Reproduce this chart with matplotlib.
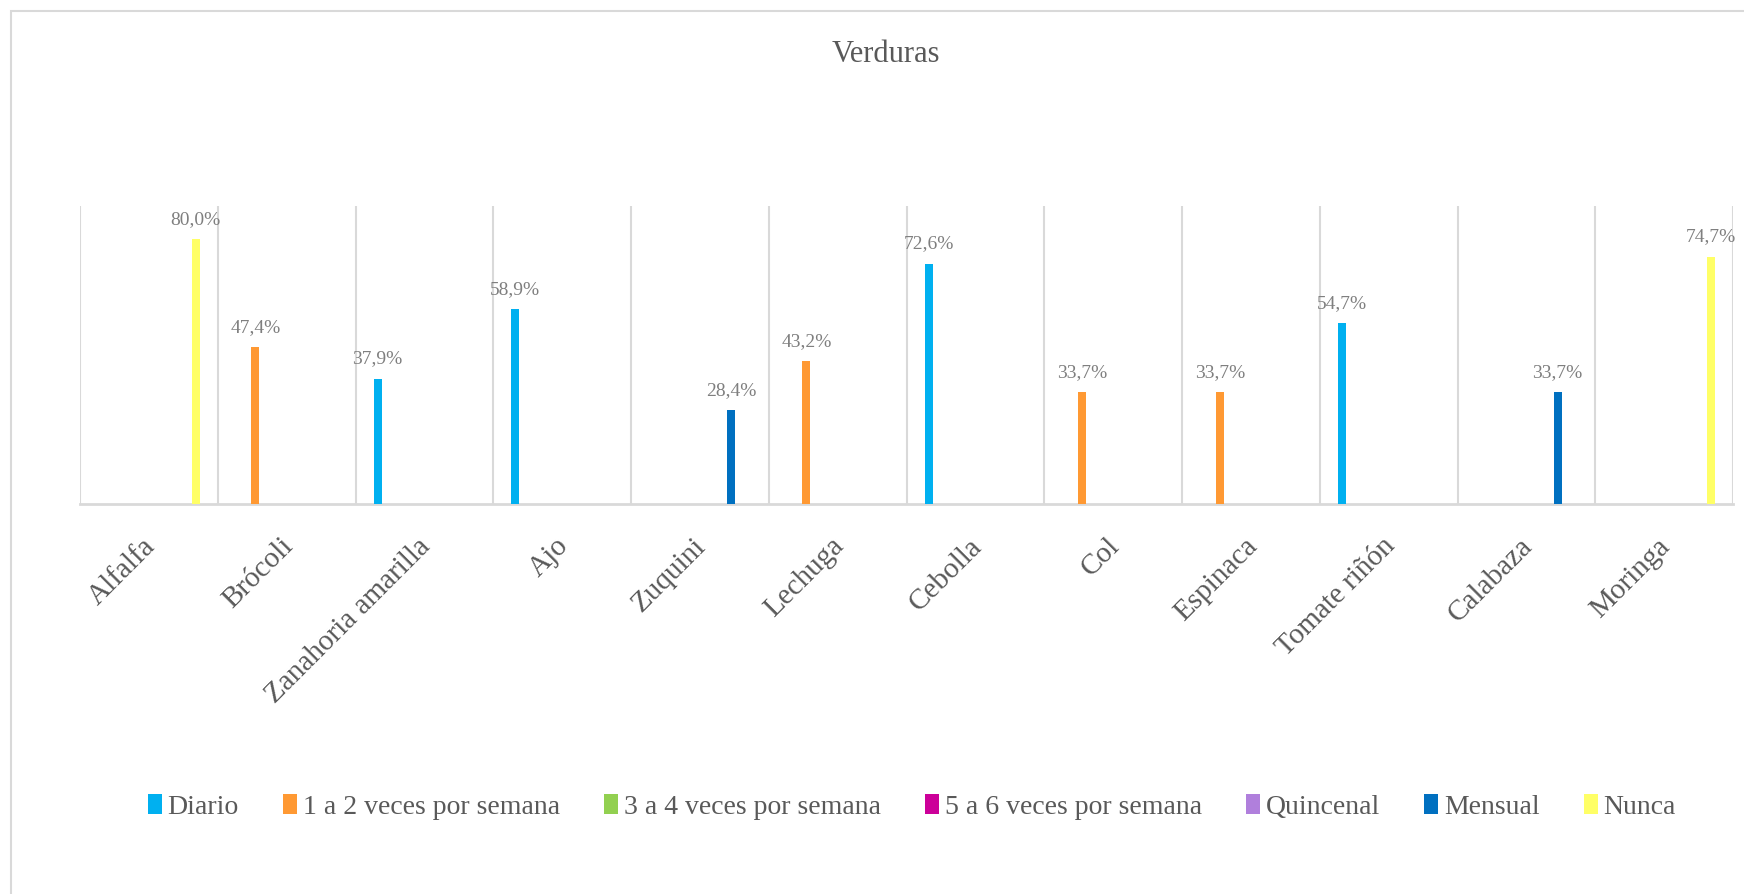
import matplotlib.pyplot as plt
import matplotlib as mpl
from matplotlib.patches import Rectangle
from matplotlib.transforms import ScaledTranslation
import numpy as np

categorias = ["Alfalfa", "Brócoli", "Zanahoria amarilla", "Ajo", "Zuquini", "Lechuga",
              "Cebolla", "Col", "Espinaca", "Tomate riñón", "Calabaza", "Moringa"]

series = ["Diario", "1 a 2 veces por semana", "3 a 4 veces por semana",
          "5 a 6 veces por semana", "Quincenal", "Mensual", "Nunca"]

diario    = [0, 0, 37.9, 58.9, 0, 0, 72.6, 0, 0, 54.7, 0, 0]
uno_dos   = [0, 47.4, 0, 0, 0, 43.2, 0, 33.7, 33.7, 0, 0, 0]
tres_cua  = [0] * 12
cinco_sei = [0] * 12
quincenal = [0] * 12
mensual   = [0, 0, 0, 0, 28.4, 0, 0, 0, 0, 0, 33.7, 0]
nunca     = [80.0, 0, 0, 0, 0, 0, 0, 0, 0, 0, 0, 74.7]

valores = [diario, uno_dos, tres_cua, cinco_sei, quincenal, mensual, nunca]
colores = ["#00B0F0", "#FF9933", "#92D050", "#CC0099", "#B07FDC", "#0070C0", "#FFFF66"]

mpl.rcParams['font.family'] = ['Liberation Serif', 'DejaVu Serif']
gris = "#595959"

fig = plt.figure(figsize=(17.44, 8.94), dpi=100)
ax = fig.add_axes([80 / 1744, 1 - 504 / 894, (1733 - 80) / 1744, (504 - 206) / 894])

# outer chart border
fig.patches.append(Rectangle((11 / 1744, -0.1), 1.2, 1.1 - 11 / 894, transform=fig.transFigure,
                             fill=False, edgecolor="#D9D9D9", lw=1.5))

x = np.arange(len(categorias))
slot = 0.113
ancho = 0.058
for i, (nombre, vals, col) in enumerate(zip(series, valores, colores)):
    v = np.array(vals) / 100.0
    bars = ax.bar(x + (i - 3) * slot, v, width=ancho, color=col, label=nombre, zorder=3)
    etiquetas = [("%.1f%%" % val).replace(".", ",") if val > 0 else "" for val in vals]
    ax.bar_label(bars, labels=etiquetas, padding=8, fontsize=14, color="#7F7F7F")

ax.set_xlim(-0.5, len(categorias) - 0.5)
ax.set_ylim(0, 0.9)
ax.set_yticks([])

# category separators
ax.set_xticks(np.arange(-0.5, len(categorias)), minor=True)
ax.grid(True, which="minor", axis="x", color="#D9D9D9", lw=1.5, zorder=0)
ax.tick_params(which="minor", length=0)
for s in ["top", "right", "left"]:
    ax.spines[s].set_visible(False)
ax.spines["bottom"].set_color("#D9D9D9")
ax.spines["bottom"].set_linewidth(2)

ax.set_xticks(x)
ax.set_xticklabels(categorias, rotation=45, ha="right", va="top", rotation_mode="anchor",
                   fontsize=21, color=gris)
ax.tick_params(which="major", length=0, pad=21)
for lab in ax.get_xticklabels():
    lab.set_transform(lab.get_transform() + ScaledTranslation(-0.07, 0, fig.dpi_scale_trans))

fig.text(886 / 1744, 1 - 55 / 894, "Verduras", ha="center", va="center", fontsize=22, color=gris)

leg = fig.legend(loc="center", bbox_to_anchor=(912 / 1744, 1 - 807 / 894), ncol=7, frameon=False,
                 fontsize=20, handlelength=0.5, handleheight=0.75, handletextpad=0.2,
                 columnspacing=1.6, labelcolor=gris)

plt.savefig("out.png", dpi=100)
